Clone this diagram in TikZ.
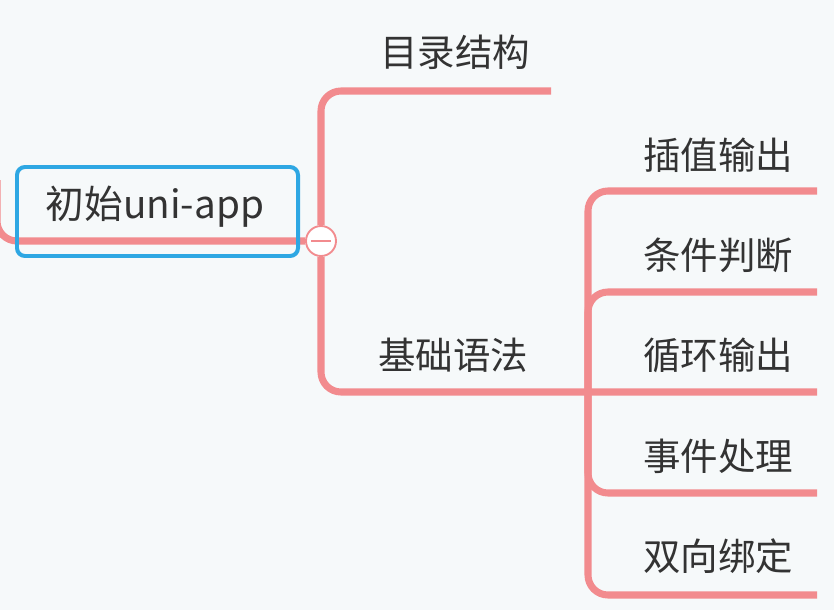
\documentclass[tikz,border=0pt]{standalone}
\usepackage{fontspec}
\newfontfamily\cjk{Noto Sans CJK SC}
\usepackage{xcolor}
\definecolor{bgpaper}{HTML}{F6F9FA}
\definecolor{branchpink}{HTML}{F28B8E}
\definecolor{rootblue}{HTML}{2EA7E3}
\definecolor{textgray}{HTML}{333333}

\begin{document}
\begin{tikzpicture}[x=0.03cm,y=-0.03cm]
	 \tikzstyle{topic}=[inner sep=0pt,text=textgray,font=\cjk\fontsize{32}{38}\selectfont]
	 \tikzstyle{root topic}=[topic,draw=rootblue,line width=3.4pt,rounded corners=0.24cm,minimum width=8.43cm,minimum height=2.67cm]
	 \tikzstyle{branch}=[draw=branchpink,line width=6pt,rounded corners=0.6cm]
	 \tikzstyle{fold}=[circle,minimum size=0.9cm,inner sep=0pt,draw=branchpink,line width=1.6pt,fill=white]

	 \useasboundingbox (0,0) rectangle (834,610);
	 \fill[bgpaper] (0,0) rectangle (834,610);
	 \clip (0,0) rectangle (834,610);

	 % line ends
	 \coordinate (end0) at (551,91);
	 \coordinate (hub) at (588,392);
	 \coordinate (end1) at (817,191);
	 \coordinate (end2) at (817,292);
	 \coordinate (end3) at (817,392);
	 \coordinate (end4) at (817,493);
	 \coordinate (end5) at (817,595);

	 \node[fold] (knob) at (321,241) {};

	 \draw[branch] (-3,180) |- (knob.west);
	 \draw[branch] (knob.north) |- (end0);
	 \draw[branch] (knob.south) |- (hub) -- (end3);
	 \draw[branch] (hub) |- (end1);
	 \draw[branch] (hub) |- (end2);
	 \draw[branch] (hub) |- (end4);
	 \draw[branch] (hub) |- (end5);

	 \draw[branchpink,line width=1.6pt] ([xshift=-0.3cm]knob.center) -- ([xshift=0.3cm]knob.center);

	 \node[root topic] (root) at (157.5,211.5) {};
	 \node[topic,font=\cjk\fontsize{33}{40}\selectfont] (roottext) at (155,207) {初始uni-app};

	 \node[topic] (mulu) at (455,52) {目录结构};
	 \node[topic] (jichu) at (453,355) {基础语法};
	 \node[topic] (chazhi) at (718,155) {插值输出};
	 \node[topic] (tiaojian) at (718,255) {条件判断};
	 \node[topic] (xunhuan) at (718,355) {循环输出};
	 \node[topic] (shijian) at (718,456) {事件处理};
	 \node[topic] (shuangxiang) at (718,556) {双向绑定};
 \end{tikzpicture}
\end{document}
